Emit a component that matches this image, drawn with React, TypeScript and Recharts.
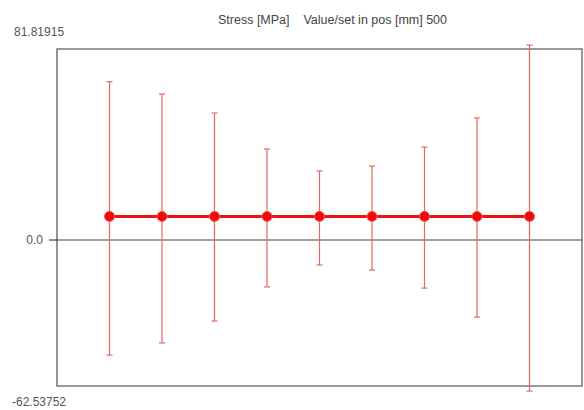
import React from "react";
import { ComposedChart, Line, XAxis, YAxis, ErrorBar, ReferenceLine, ReferenceArea } from "recharts";

const positions = [1, 2, 3, 4, 5, 6, 7, 8, 9];
const means = [10.1, 10.1, 10.1, 10.1, 10.1, 10.1, 10.1, 10.1, 10.1];
const highs = [67.8, 62.5, 54.4, 39.0, 29.6, 31.7, 39.8, 52.3, 83.5];
const lows = [-49.3, -44.1, -34.7, -20.1, -10.7, -12.9, -20.6, -33.0, -64.7];
const yMin = -62.53752;
const yMax = 81.81915;
const yTicks = [yMin, 0, yMax];
const title = "Stress [MPa]    Value/set in pos [mm] 500";

const data = positions.map((p, i) => ({ pos: p, mean: means[i], high: highs[i], low: lows[i] }));

const FONT = "'Liberation Sans', Arial, sans-serif";

const YTick = (props: any) => {
  const { x, y, payload } = props;
  const v = payload.value;
  if (v === 0) {
    return (
      <g>
        <line x1={x - 8} x2={x} y1={y} y2={y} stroke="#444" strokeWidth={1.2} />
        <text x={x - 14} y={y} dy="0.35em" textAnchor="end" fontSize={12} fontFamily={FONT} fill="#555">0.0</text>
      </g>
    );
  }
  if (v > 0) {
    return (
      <text x={x - 43} y={y - 17} dy="0.35em" textAnchor="start" fontSize={12} fontFamily={FONT} fill="#555">{String(v)}</text>
    );
  }
  return (
    <text x={x - 45} y={y + 16} dy="0.35em" textAnchor="start" fontSize={12} fontFamily={FONT} fill="#555">{String(v)}</text>
  );
};

export default function App() {
  return (
    <div style={{ position: "absolute", left: 0, top: 0, width: 584, height: 410, background: "#fff" }}>
      <div
        style={{
          position: "absolute",
          left: 218,
          top: 12,
          fontFamily: FONT,
          fontSize: 12.5,
          lineHeight: "16px",
          color: "#444",
          whiteSpace: "pre",
        }}
      >
        {title}
      </div>
      <ComposedChart width={584} height={410} data={data} margin={{ top: 49, right: 2, bottom: 24, left: 0 }}>
        <XAxis type="number" dataKey="pos" domain={[0, 10]} hide allowDataOverflow />
        <YAxis
          type="number"
          width={57}
          domain={[yMin, yMax]}
          ticks={yTicks}
          interval={0}
          allowDataOverflow
          axisLine={false}
          tickLine={false}
          tickSize={0}
          tickMargin={0}
          tick={<YTick />}
        />
        <ReferenceArea x1={0} x2={10} y1={yMin} y2={yMax} fill="none" stroke="#7a7a7a" strokeWidth={1.6} ifOverflow="visible" />
        <ReferenceLine y={0} stroke="#444" strokeWidth={1.2} ifOverflow="visible" />
        <Line
          type="linear"
          dataKey="mean"
          stroke="#ee1111"
          strokeWidth={3}
          isAnimationActive={false}
          dot={{ r: 5, fill: "#ee0a0a", stroke: "#ff5555", strokeWidth: 1 }}
          activeDot={false}
        >
          <ErrorBar
            dataKey={(d: any) => [d.mean - d.low, d.high - d.mean]}
            direction="y"
            width={3}
            stroke="#e06a6a"
            strokeWidth={1.2}
            isAnimationActive={false}
          />
        </Line>
      </ComposedChart>
    </div>
  );
}
